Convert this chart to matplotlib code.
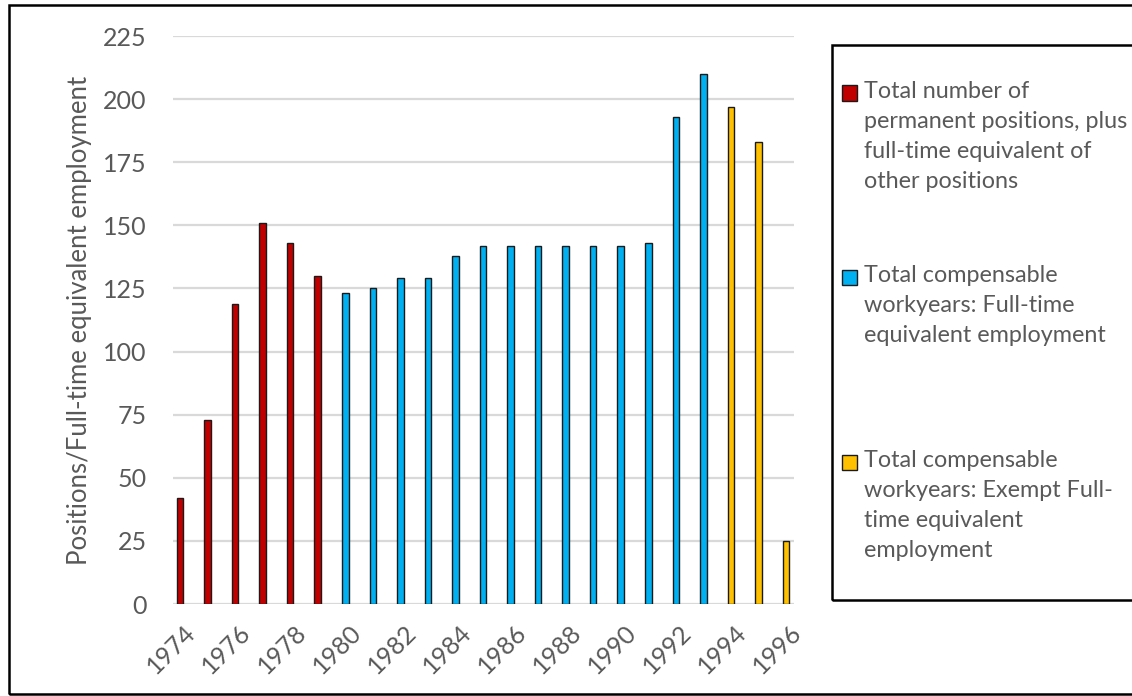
import matplotlib.pyplot as plt
from matplotlib.patches import Rectangle
from matplotlib.transforms import ScaledTranslation

plt.rcParams['font.family'] = ['Lato', 'DejaVu Sans']

years_positions = [1974, 1975, 1976, 1977, 1978, 1979]
positions = [42, 73, 119, 151, 143, 130]

years_fte = [1980, 1981, 1982, 1983, 1984, 1985, 1986, 1987, 1988, 1989,
             1990, 1991, 1992, 1993]
fte = [123, 125, 129, 129, 138, 142, 142, 142, 142, 142, 142, 143, 193, 210]

years_exempt = [1994, 1995, 1996]
exempt = [197, 183, 25]

labels = [
    "Total number of\npermanent positions, plus\nfull-time equivalent of\nother positions",
    "Total compensable\nworkyears: Full-time\nequivalent employment",
    "Total compensable\nworkyears: Exempt Full-\ntime equivalent\nemployment",
]
colors = ['#C00000', '#00B0F0', '#FFC000']
year_ticks = list(range(1974, 1997, 2))
y_ticks = [0, 25, 50, 75, 100, 125, 150, 175, 200, 225]

W, H = 1132, 696
fig = plt.figure(figsize=(W / 100, H / 100), dpi=100)
ax = fig.add_axes([173 / W, 1 - 604 / H, (794 - 173) / W, (604 - 36) / H])

text_grey = '#595959'
bw = 0.24
for xs, ys, c in zip([years_positions, years_fte, years_exempt],
                     [positions, fte, exempt], colors):
    ax.bar(xs, ys, width=bw, color=c, edgecolor='#1a1a1a', linewidth=1.0, zorder=3)

ax.set_xlim(1973.746, 1996.29)
ax.set_ylim(0, 225)
ax.set_yticks(y_ticks)
ax.set_xticks(year_ticks)
ax.set_xticklabels([str(y) for y in year_ticks], rotation=45, ha='right',
                   rotation_mode='anchor')
ax.tick_params(axis='y', length=0, pad=19, labelsize=18, labelcolor=text_grey)
ax.tick_params(axis='x', length=0, pad=12, labelsize=18, labelcolor=text_grey)
shift = ScaledTranslation(4 / 100, 0, fig.dpi_scale_trans)
for t in ax.get_xticklabels():
    t.set_transform(t.get_transform() + shift)
ax.grid(axis='y', color='#D9D9D9', linewidth=1.6, zorder=0)
for s in ax.spines.values():
    s.set_visible(False)
fig.text(80 / W, 1 - 320 / H, 'Positions/Full-time equivalent employment',
         rotation=90, fontsize=18.5, color=text_grey, ha='center', va='center')

# legend box, runs off the right edge
fig.patches.append(Rectangle((832 / W, 1 - 600 / H), 400 / W, (600 - 45) / H,
                             transform=fig.transFigure, fill=False,
                             edgecolor='black', linewidth=1.8))
entry_mid = [93, 277, 462]
for mid, lab, c in zip(entry_mid, labels, colors):
    fig.patches.append(Rectangle((842 / W, 1 - (mid + 7.5) / H), 15 / W, 15 / H,
                                 transform=fig.transFigure, facecolor=c,
                                 edgecolor='#1a1a1a', linewidth=1.0))
    fig.text(864 / W, 1 - (mid - 12) / H, lab, fontsize=16.8, color=text_grey,
             va='top', ha='left', linespacing=1.52)

# outer frame
fig.patches.append(Rectangle((9 / W, 1 - 694 / H), 1200 / W, (694 - 5) / H,
                             transform=fig.transFigure, fill=False,
                             edgecolor='black', linewidth=1.8))

fig.savefig('out.png', dpi=100)
